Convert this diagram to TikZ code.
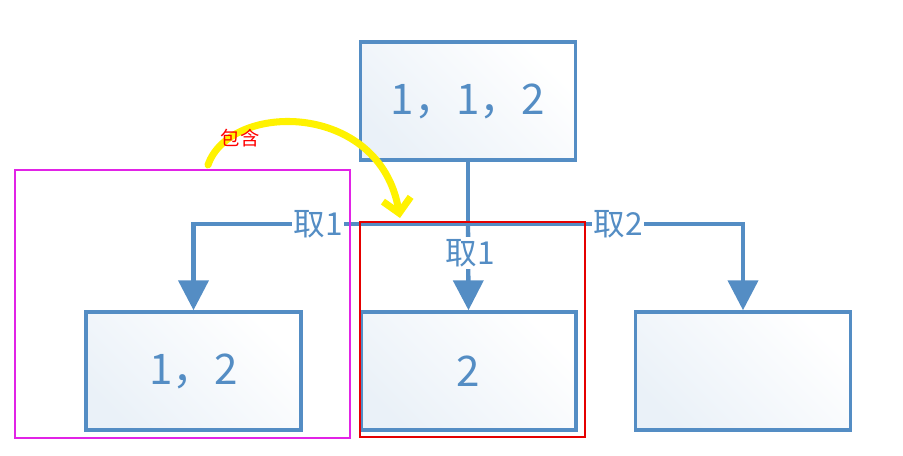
\documentclass[tikz,border=0pt]{standalone}
\usepackage{fontspec}
\newfontfamily\cjk{Noto Sans CJK SC}
\usetikzlibrary{arrows.meta,positioning}
\definecolor{steel}{RGB}{84,141,196}
\definecolor{hlyellow}{RGB}{255,242,0}
\definecolor{violet}{RGB}{225,35,230}
\begin{document}
\begin{tikzpicture}[>=Triangle]
        \tikzset{box/.style={draw=steel, line width=2pt, left color=steel!12, right color=white, shading angle=135,
                minimum width=4.3cm, minimum height=2.36cm, text=steel, font=\cjk\fontsize{24}{26}\selectfont},
        lbl/.style={fill=white, inner sep=1pt, text=steel, font=\cjk\fontsize{18}{20}\selectfont},
        link/.style={draw=steel, line width=2.5pt},
        tip/.style={-{Triangle[length=17pt,width=17pt]}},
        }
        \useasboundingbox (0,0) rectangle (18.06,9.12);
        \node [box] (top) at (9.36,7.1) {1，1，2};
        \node [box] (left) at (3.87,1.7) {1，2};
        \node [box] (mid) at (9.37,1.7) {2};
        \node [box] (right) at (14.86,1.7) {};
        \coordinate (j) at (9.36,4.64);  %% junction under top box
        \coordinate (jl) at (3.87,4.64);
        \coordinate (jr) at (14.86,4.64);

%% paths
        \path[link] (top.south) -- (j);
        \path[link, tip] (j) -- (jl) -- (left.north);
        \path[link, tip] (j) -- (jr) -- (right.north);
        \path[link, tip] (j) -- (mid.north);
        \node [lbl] (takel) at (6.36,4.64) {取1};
        \node [lbl] (takem) at (9.4,4.06) {取1};
        \node [lbl] (taker) at (12.36,4.64) {取2};

        \draw [violet, line width=1.4pt] (0.3,0.36) rectangle (7.0,5.72);
        \draw [red!90!black, line width=1.4pt] (7.2,0.38) rectangle (11.7,4.68);
        \coordinate (cs) at (4.16,5.82);
        \coordinate (ce) at (8.0,4.76);
        \draw [hlyellow, line width=4pt, line cap=round, -{Straight Barb[length=8pt,width=16pt]}]
                (cs) .. controls (4.6,7.1) and (7.6,7.1) .. (ce);
        \node [text=red, font=\cjk\fontsize{11}{12}\selectfont] (incl) at (4.8,6.36) {包含};
\end{tikzpicture}
\end{document}
